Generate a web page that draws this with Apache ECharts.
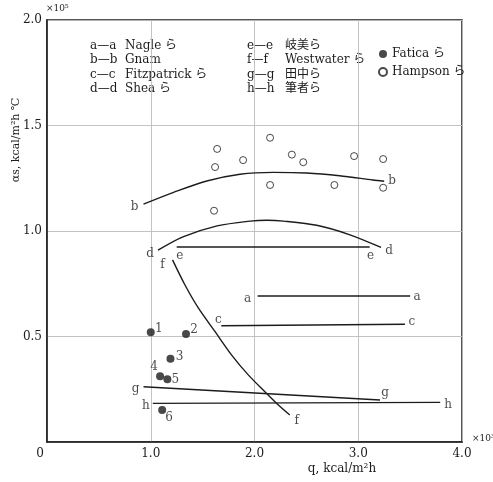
<!DOCTYPE html>
<html>
<head>
<meta charset="utf-8">
<script src="https://cdn.jsdelivr.net/npm/echarts@6/dist/echarts.min.js"></script>
<style>
  html, body { margin: 0; padding: 0; background: #fff; }
  #chart { width: 493px; height: 482px; }
</style>
</head>
<body>
<div id="chart"></div>
<script>
// Line identifiers and their authors (legend text)
const lineKeys = ['a', 'b', 'c', 'd', 'e', 'f', 'g', 'h'];
const lineAuthors = ['Nagle ら', 'Gnam', 'Fitzpatrick ら', 'Shea ら', '岐美ら', 'Westwater ら', '田中ら', '筆者ら'];

// Correlation lines: q (×10^3 kcal/m²h) vs αs (×10^5 kcal/m²h℃)
const qA = [2.03, 3.50];
const aA = [0.692, 0.692];
const qB = [0.93, 1.22, 1.54, 1.86, 2.18, 2.50, 2.82, 3.14, 3.25];
const aB = [1.127, 1.183, 1.237, 1.269, 1.278, 1.275, 1.262, 1.242, 1.236];
const qC = [1.68, 3.45];
const aC = [0.551, 0.558];
const qD = [1.07, 1.31, 1.64, 1.96, 2.12, 2.28, 2.60, 2.92, 3.22];
const aD = [0.909, 0.972, 1.024, 1.047, 1.051, 1.047, 1.027, 0.982, 0.922];
const qE = [1.25, 3.11];
const aE = [0.924, 0.924];
const qF = [1.21, 1.33, 1.46, 1.62, 1.78, 1.94, 2.10, 2.23, 2.34];
const aF = [0.863, 0.744, 0.634, 0.523, 0.412, 0.318, 0.238, 0.175, 0.128];
const qG = [0.93, 3.21];
const aG = [0.262, 0.199];
const qH = [1.02, 3.79];
const aH = [0.183, 0.188];

// Measured points
const faticaQ = [1.00, 1.34, 1.19, 1.09, 1.16, 1.11];
const faticaA = [0.520, 0.512, 0.394, 0.312, 0.297, 0.152];
const faticaTags = ['1', '2', '3', '4', '5', '6'];
const hampsonQ = [1.64, 1.62, 1.89, 2.15, 2.36, 2.47, 2.96, 3.24, 2.15, 2.77, 3.24, 1.61];
const hampsonA = [1.389, 1.303, 1.336, 1.442, 1.362, 1.326, 1.355, 1.341, 1.218, 1.218, 1.205, 1.096];

// Axis ticks
const qTicks = [0, 1, 2, 3, 4];
const aTicks = [0, 0.5, 1.0, 1.5, 2.0];

const lineQ = [qA, qB, qC, qD, qE, qF, qG, qH];
const lineA = [aA, aB, aC, aD, aE, aF, aG, aH];
const smoothKeys = { b: 0.3, d: 0.3, f: 0.3 };

// Offsets (px) of the letter tags at the start and end of each line
const tagOffsets = {
  a: [[-10, 3], [7, 1]],
  b: [[-9, 3], [8, 0]],
  c: [[-3, -6], [7, -2]],
  d: [[-8, 4], [8, 3]],
  e: [[3, 9], [1, 9]],
  f: [[-10, 5], [7, 6]],
  g: [[-8, 2], [5, -7]],
  h: [[-7, 2], [8, 3]]
};
// Offsets of the number tags next to the Fatica points
const pointTagOffsets = [[8, -3], [8, -4], [9, -2], [-6, -9], [8, 1], [7, 8]];

const SERIF = '"DejaVu Serif", "Liberation Serif", "Noto Sans CJK JP", serif';
const INK = '#1c1c1c';

const zip = (xs, ys) => xs.map((x, i) => [x, ys[i]]);

const series = [];

lineKeys.forEach((k, i) => {
  series.push({
    type: 'line',
    name: k,
    data: zip(lineQ[i], lineA[i]),
    smooth: smoothKeys[k] || false,
    showSymbol: false,
    silent: true,
    lineStyle: { color: INK, width: 1.4 },
    z: 3
  });
});

// Letter tags at the line ends
const tagData = [];
lineKeys.forEach((k, i) => {
  const qs = lineQ[i], as = lineA[i];
  const ends = [[qs[0], as[0]], [qs[qs.length - 1], as[as.length - 1]]];
  ends.forEach((p, j) => {
    tagData.push({
      value: p,
      label: { offset: tagOffsets[k][j], formatter: k }
    });
  });
});
series.push({
  type: 'scatter',
  name: 'tags',
  data: tagData,
  symbolSize: 1,
  silent: true,
  itemStyle: { color: 'rgba(0,0,0,0)' },
  label: {
    show: true,
    position: 'inside',
    color: INK,
    fontFamily: SERIF,
    fontSize: 12
  },
  z: 4
});

series.push({
  type: 'scatter',
  name: 'Fatica ら',
  data: zip(faticaQ, faticaA).map((p, i) => ({
    value: p,
    label: { formatter: faticaTags[i], offset: pointTagOffsets[i] }
  })),
  symbol: 'circle',
  symbolSize: 8,
  itemStyle: { color: INK },
  label: {
    show: true,
    position: 'inside',
    color: INK,
    fontFamily: SERIF,
    fontSize: 12
  },
  z: 5
});

series.push({
  type: 'scatter',
  name: 'Hampson ら',
  data: zip(hampsonQ, hampsonA),
  symbol: 'circle',
  symbolSize: 7,
  itemStyle: { color: '#fff', borderColor: INK, borderWidth: 1 },
  z: 5
});

// Legend text for the lettered lines
const legendTexts = [];
const rowY = [47, 61, 76, 90];
lineKeys.forEach((k, i) => {
  const col = i < 4 ? 0 : 1;
  const row = i % 4;
  const x0 = col === 0 ? 90 : 247;
  const x1 = col === 0 ? 125 : 285;
  legendTexts.push({
    type: 'text', left: x0, top: rowY[row] - 7,
    style: { text: k + '—' + k, font: '12px ' + SERIF, fill: INK }
  });
  legendTexts.push({
    type: 'text', left: x1, top: rowY[row] - 7,
    style: { text: lineAuthors[i], font: '12px ' + SERIF, fill: INK }
  });
});

const chart = echarts.init(document.getElementById('chart'), null, { renderer: 'canvas' });

chart.setOption({
  animation: false,
  backgroundColor: '#fff',
  grid: {
    left: 47, right: 31, top: 20, bottom: 40,
    show: true, borderColor: INK, borderWidth: 1.5, backgroundColor: 'transparent'
  },
  legend: {
    data: ['Fatica ら', 'Hampson ら'],
    orient: 'vertical',
    left: 373, top: 43,
    itemWidth: 8, itemHeight: 8, itemGap: 6,
    icon: 'circle',
    textStyle: { fontFamily: SERIF, fontSize: 12, color: INK },
    selectedMode: false
  },
  xAxis: {
    type: 'value',
    min: qTicks[0], max: qTicks[qTicks.length - 1], interval: 1,
    axisLine: { show: true, lineStyle: { color: INK, width: 1.5 } },
    axisTick: { show: false },
    splitLine: { show: true, lineStyle: { color: '#bcbcbc', width: 0.9 } },
    axisLabel: {
      margin: 6,
      fontFamily: SERIF, fontSize: 12, color: INK,
      formatter: v => v === 0 ? '{z|0}' : v.toFixed(1),
      rich: { z: { fontFamily: SERIF, fontSize: 12, color: INK, padding: [0, 14, 0, 0] } }
    }
  },
  yAxis: {
    type: 'value',
    min: aTicks[0], max: aTicks[aTicks.length - 1], interval: 0.5,
    axisLine: { show: true, lineStyle: { color: INK, width: 1.5 } },
    axisTick: { show: false },
    splitLine: { show: true, lineStyle: { color: '#bcbcbc', width: 0.9 } },
    axisLabel: {
      margin: 5,
      fontFamily: SERIF, fontSize: 12, color: INK,
      formatter: v => v === 0 ? '' : v.toFixed(1)
    }
  },
  graphic: [
    ...legendTexts,
    {
      type: 'text', left: 46, top: 4,
      style: { text: '×10⁵', font: '9px ' + SERIF, fill: INK }
    },
    {
      type: 'text', left: 472, top: 434,
      style: { text: '×10³', font: '9px ' + SERIF, fill: INK }
    },
    {
      type: 'text', x: 342, y: 469,
      style: { text: 'q, kcal/m²h', font: '12px ' + SERIF, fill: INK, align: 'center', verticalAlign: 'middle' }
    },
    {
      type: 'text', x: 16, y: 140, rotation: Math.PI / 2,
      style: { text: 'αs, kcal/m²h ℃', font: '11px ' + SERIF, fill: INK, align: 'center', verticalAlign: 'middle' }
    }
  ],
  series: series
});
</script>
</body>
</html>
